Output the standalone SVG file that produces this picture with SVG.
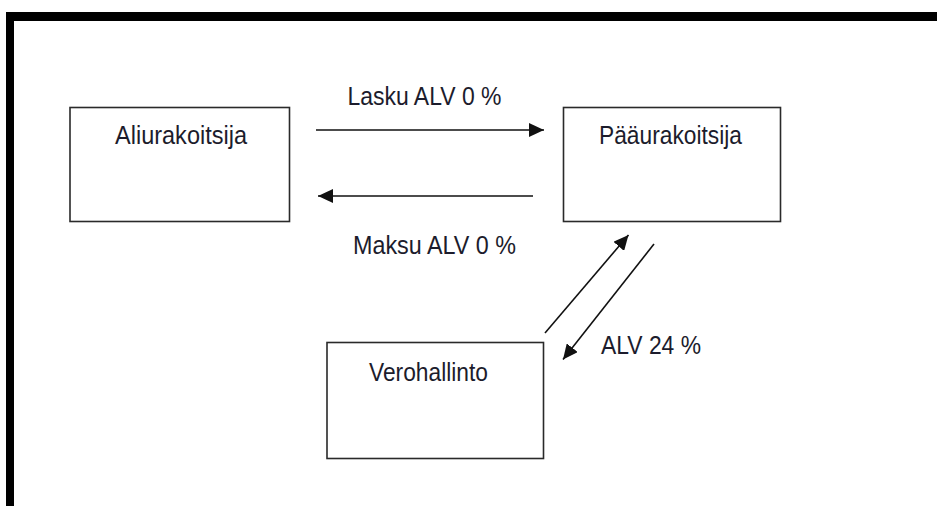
<svg xmlns="http://www.w3.org/2000/svg" width="937" height="506" viewBox="0 0 937 506">
  <style>
    .box { fill: #ffffff; stroke: #2a2a2a; stroke-width: 1.6; }
    .lbl { font-family: "Liberation Sans", Arial, sans-serif; font-size: 25.5px; fill: #1c1c2c; }
    .conn { stroke: #111111; stroke-width: 1.6; fill: none; marker-end: url(#arrow); }
  </style>
  <defs>
    <marker id="arrow" markerUnits="userSpaceOnUse" markerWidth="16" markerHeight="14" refX="15" refY="7" orient="auto">
      <path d="M0,0 L15,7 L0,14 z" fill="#111111"/>
    </marker>
  </defs>
  <rect x="0" y="0" width="937" height="506" fill="#ffffff"/>
  <g id="frame">
    <rect x="6" y="12" width="931" height="9" fill="#000000"/>
    <rect x="6" y="12" width="8" height="494" fill="#000000"/>
  </g>
  <g id="aliurakoitsija">
    <rect class="box" x="70" y="107.5" width="219.5" height="114"/>
    <text class="lbl" x="115" y="144" textLength="132" lengthAdjust="spacingAndGlyphs">Aliurakoitsija</text>
  </g>
  <g id="paaurakoitsija">
    <rect class="box" x="563.5" y="107.5" width="217" height="114"/>
    <text class="lbl" x="599" y="144" textLength="143" lengthAdjust="spacingAndGlyphs">Pääurakoitsija</text>
  </g>
  <g id="verohallinto">
    <rect class="box" x="327" y="342.5" width="216.5" height="116"/>
    <text class="lbl" x="369" y="381" textLength="119" lengthAdjust="spacingAndGlyphs">Verohallinto</text>
  </g>
  <g id="connectors">
    <line class="conn" x1="316" y1="130" x2="544" y2="130"/>
    <line class="conn" x1="533" y1="196" x2="318" y2="196"/>
    <line class="conn" x1="545" y1="333" x2="628.5" y2="235"/>
    <line class="conn" x1="654" y1="244" x2="563" y2="359.5"/>
    <text class="lbl" x="347.5" y="105" textLength="154" lengthAdjust="spacingAndGlyphs">Lasku ALV 0 %</text>
    <text class="lbl" x="353" y="254" textLength="163" lengthAdjust="spacingAndGlyphs">Maksu ALV 0 %</text>
    <text class="lbl" x="601" y="354" textLength="100" lengthAdjust="spacingAndGlyphs">ALV 24 %</text>
  </g>
</svg>
